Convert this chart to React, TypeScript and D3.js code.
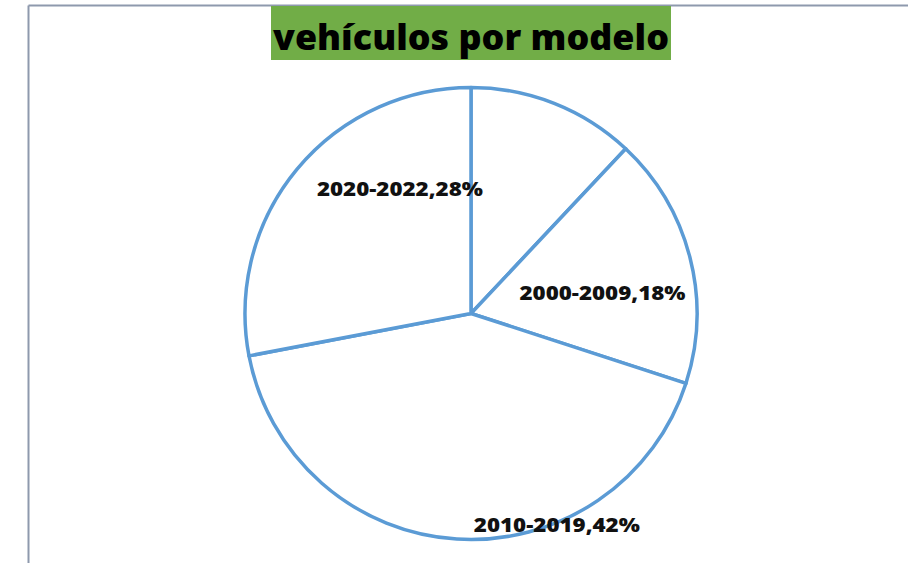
import React from "react";
import * as d3 from "d3";

// Slice order clockwise from 12 o'clock (first slice has no label in the chart)
const sliceNames = ["", "2000-2009", "2010-2019", "2020-2022"];
const sliceValues = [12, 18, 42, 28];
const title = "vehículos por modelo";

// label placement (polar: angle in degrees clockwise from top, distance as fraction of radius)
const labelPolar: Record<string, [number, number]> = {
  "2020-2022": [330.3, 0.635],
  "2000-2009": [81.1, 0.589],
  "2010-2019": [157.9, 1.01],
};

const W = 908;
const H = 563;

export default function App() {
  const cx = 471;
  const cy = 313.5;
  const r = 226;
  const data = sliceNames.map((n, i) => ({ name: n, value: sliceValues[i] }));
  const pie = d3.pie<{ name: string; value: number }>().value((d) => d.value).sort(null);
  const arcs = pie(data);
  const arc = d3.arc<d3.PieArcDatum<{ name: string; value: number }>>().innerRadius(0).outerRadius(r);
  const total = d3.sum(sliceValues);

  return (
    <svg width={W} height={H} style={{ position: "absolute", left: 0, top: 0, background: "#fff" }}>
      <line x1={28.5} y1={5.5} x2={28.5} y2={H} stroke="#8e99ad" strokeWidth={2} />
      <line x1={28.5} y1={5.5} x2={W} y2={5.5} stroke="#8e99ad" strokeWidth={2} />
      <rect x={271} y={6} width={400} height={54} fill="#71ad47" />
      <text
        x={471}
        y={50}
        textAnchor="middle"
        fontFamily="'Open Sans', sans-serif"
        fontWeight={800}
        fontSize={36}
        textLength={396}
        lengthAdjust="spacingAndGlyphs"
        fill="#000"
      >
        {title}
      </text>
      <g transform={`translate(${cx},${cy})`}>
        {arcs.map((a, i) => (
          <path key={i} d={arc(a) || ""} fill="#fff" stroke="#5b9bd5" strokeWidth={3.5} strokeLinejoin="round" />
        ))}
        {arcs.map((a, i) => {
          const name = a.data.name;
          if (!name) return null;
          const pol = labelPolar[name];
          const ang = (pol[0] * Math.PI) / 180;
          const x = Math.sin(ang) * pol[1] * r;
          const y = -Math.cos(ang) * pol[1] * r;
          const pct = Math.round((a.data.value / total) * 100);
          return (
            <text
              key={"l" + i}
              x={x}
              y={y + 7}
              textAnchor="middle"
              fontFamily="'Open Sans', sans-serif"
              fontWeight={800}
              fontSize={20}
              textLength={166}
              lengthAdjust="spacingAndGlyphs"
              fill="#111"
            >
              {`${name},${pct}%`}
            </text>
          );
        })}
      </g>
    </svg>
  );
}
